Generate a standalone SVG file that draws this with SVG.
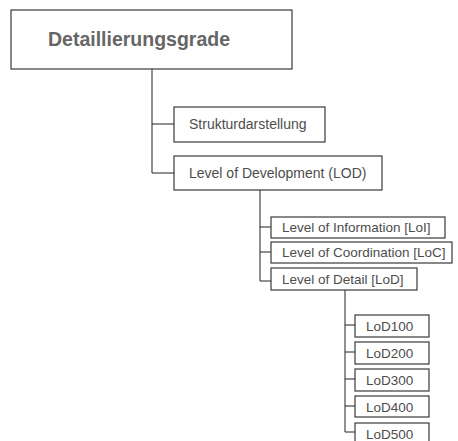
<svg xmlns="http://www.w3.org/2000/svg" width="458" height="441" viewBox="0 0 458 441">
<style>
.box{fill:#fff;stroke:#3a3a3a;stroke-width:1.2}
.t{font-family:"Liberation Sans",Arial,sans-serif;fill:#4d4d4d;font-size:13.5px}
.title{font-family:"Liberation Sans",Arial,sans-serif;fill:#666;font-size:19.5px;font-weight:bold}
.c{fill:none;stroke:#222;stroke-width:1}
</style>
<rect width="458" height="441" fill="#fff"/>
<g id="connectors">
<path class="c" d="M152 69 V173 M152 124 H174 M152 173 H174"/>
<path class="c" d="M260 190 V281 M260 227 H271 M260 252 H271 M260 281 H271" stroke-width="1.3"/>
<path class="c" d="M345 290 V432 M345 325 H355 M345 352 H355 M345 379 H355 M345 406 H355 M345 432 H355" stroke-width="1.3"/>
</g>
<g id="n-root"><rect class="box" x="11" y="10" width="281" height="59"/><text class="title" x="48" y="46">Detaillierungsgrade</text></g>
<g id="n-struktur"><rect class="box" x="174" y="107" width="151" height="35"/><text class="t" x="189" y="129" style="font-size:14px">Strukturdarstellung</text></g>
<g id="n-lod"><rect class="box" x="174" y="156" width="208" height="34"/><text class="t" x="189" y="178" style="font-size:14px">Level of Development (LOD)</text></g>
<g id="n-loi"><rect class="box" x="271" y="217" width="174" height="21"/><text class="t" x="282" y="232">Level of Information [LoI]</text></g>
<g id="n-loc"><rect class="box" x="271" y="242" width="181" height="21"/><text class="t" x="282" y="257">Level of Coordination [LoC]</text></g>
<g id="n-lodetail"><rect class="box" x="271" y="268" width="146" height="22"/><text class="t" x="282" y="284">Level of Detail [LoD]</text></g>
<g id="n-100"><rect class="box" x="355" y="315" width="74" height="22"/><text class="t" x="366" y="331">LoD100</text></g>
<g id="n-200"><rect class="box" x="355" y="342" width="74" height="22"/><text class="t" x="366" y="358">LoD200</text></g>
<g id="n-300"><rect class="box" x="355" y="369" width="74" height="22"/><text class="t" x="366" y="385">LoD300</text></g>
<g id="n-400"><rect class="box" x="355" y="396" width="74" height="21"/><text class="t" x="366" y="412">LoD400</text></g>
<g id="n-500"><rect class="box" x="355" y="423" width="74" height="22"/><text class="t" x="366" y="439">LoD500</text></g>
</svg>
